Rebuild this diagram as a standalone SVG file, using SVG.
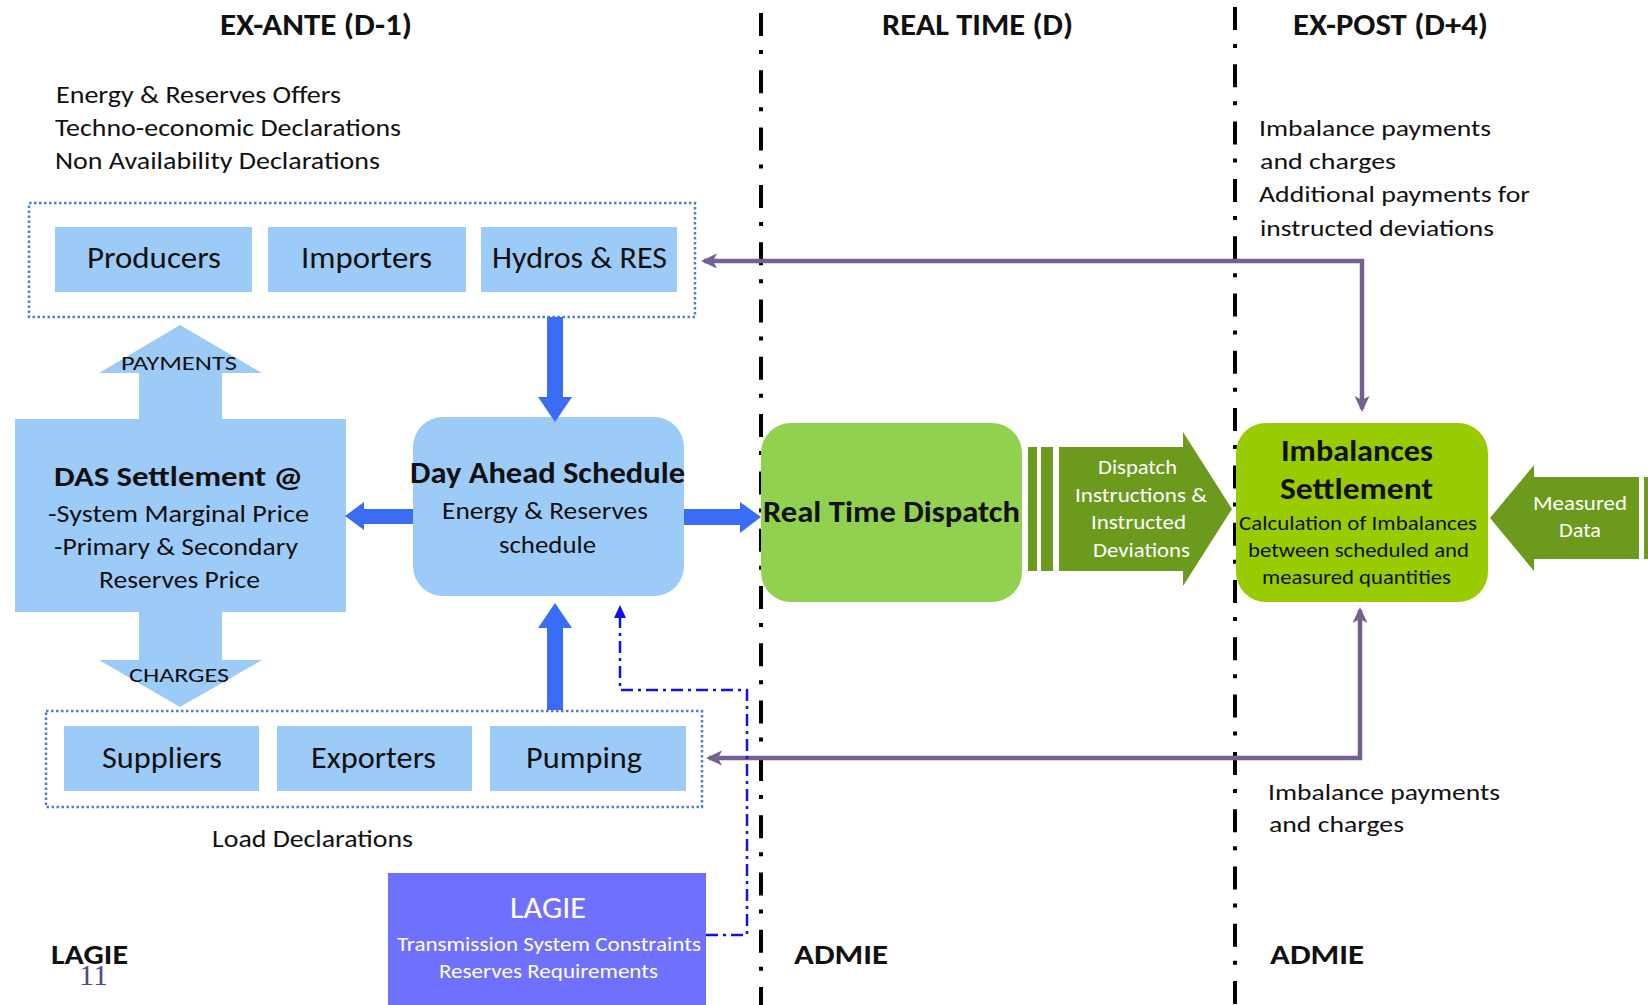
<svg xmlns="http://www.w3.org/2000/svg" width="1648" height="1005" viewBox="0 0 1648 1005">
<style>
text{font-family:Carlito,Lato,"Open Sans",sans-serif;fill:#111;}
.b{font-weight:bold;}
.c{text-anchor:middle;}
.lb{fill:#9dcbf8;}
.cont{fill:none;stroke:#4f7be0;stroke-width:2.5;stroke-dasharray:2.5 2.5;}
.phase{fill:none;stroke:#000;stroke-width:4;stroke-dasharray:23 14 4 16.3;}
.blue{fill:#3a6cf6;}
.purple{fill:none;stroke:#76608f;stroke-width:4.5;}
.dd{fill:none;stroke:#1010ee;stroke-width:2.5;stroke-dasharray:12 5 3 5;}
.dg{fill:#6b9a1d;}
.w{fill:#fff;}
</style>
<defs>
<marker id="pa" viewBox="0 0 16 16" refX="13" refY="8" markerWidth="16" markerHeight="16" markerUnits="userSpaceOnUse" orient="auto-start-reverse">
<path d="M0,0.5 L16,8 L0,15.5 L4,8 z" fill="#76608f"/>
</marker>
<marker id="ba" viewBox="0 0 13 12" refX="1" refY="6" markerWidth="13" markerHeight="12" markerUnits="userSpaceOnUse" orient="auto">
<path d="M0,0 L13,6 L0,12 z" fill="#1010ee"/>
</marker>
</defs>
<rect width="1648" height="1005" fill="#fff"/>

<g id="phase-lines">
<line class="phase" x1="761" y1="13" x2="761" y2="1005"/>
<line class="phase" x1="1235" y1="7" x2="1235" y2="1005"/>
</g>

<g id="titles">
<text class="b" x="220" y="35" font-size="30" textLength="192" lengthAdjust="spacingAndGlyphs">EX-ANTE (D-1)</text>
<text class="b" x="882" y="35" font-size="30" textLength="191" lengthAdjust="spacingAndGlyphs">REAL TIME (D)</text>
<text class="b" x="1293" y="35" font-size="30" textLength="195" lengthAdjust="spacingAndGlyphs">EX-POST (D+4)</text>
</g>

<g id="labels">
<text x="56" y="103" font-size="24" textLength="285" lengthAdjust="spacingAndGlyphs">Energy &amp; Reserves Offers</text>
<text x="55" y="136" font-size="24" textLength="346" lengthAdjust="spacingAndGlyphs">Techno-economic Declarations</text>
<text x="55" y="169" font-size="24" textLength="325" lengthAdjust="spacingAndGlyphs">Non Availability Declarations</text>
<text x="212" y="847" font-size="24" textLength="201" lengthAdjust="spacingAndGlyphs">Load Declarations</text>
<text x="1259" y="136" font-size="23" textLength="232" lengthAdjust="spacingAndGlyphs">Imbalance payments</text>
<text x="1260" y="169" font-size="23" textLength="136" lengthAdjust="spacingAndGlyphs">and charges</text>
<text x="1259" y="202" font-size="23" textLength="271" lengthAdjust="spacingAndGlyphs">Additional payments for</text>
<text x="1260" y="236" font-size="23" textLength="234" lengthAdjust="spacingAndGlyphs">instructed deviations</text>
<text x="1268" y="800" font-size="23" textLength="232" lengthAdjust="spacingAndGlyphs">Imbalance payments</text>
<text x="1269" y="832" font-size="23" textLength="135" lengthAdjust="spacingAndGlyphs">and charges</text>
<text class="b" x="51" y="964" font-size="28" textLength="77" lengthAdjust="spacingAndGlyphs">LAGIE</text>
<text x="79" y="985" font-size="30" style="font-family:'Liberation Serif',serif;fill:#4a4a8c">11</text>
<text class="b" x="794" y="964" font-size="28" textLength="94" lengthAdjust="spacingAndGlyphs">ADMIE</text>
<text class="b" x="1270" y="964" font-size="28" textLength="94" lengthAdjust="spacingAndGlyphs">ADMIE</text>
</g>

<g id="generators">
<rect class="cont" x="29" y="203" width="666" height="114"/>
<g id="producers"><rect class="lb" x="55" y="227" width="197" height="65"/><text x="87" y="268" font-size="30" textLength="134" lengthAdjust="spacingAndGlyphs">Producers</text></g>
<g id="importers"><rect class="lb" x="268" y="227" width="198" height="65"/><text x="301" y="268" font-size="30" textLength="131" lengthAdjust="spacingAndGlyphs">Importers</text></g>
<g id="hydros-res"><rect class="lb" x="481" y="227" width="196" height="65"/><text x="492" y="268" font-size="30" textLength="175" lengthAdjust="spacingAndGlyphs">Hydros &amp; RES</text></g>
</g>

<g id="loads">
<rect class="cont" x="46" y="711" width="656" height="96"/>
<g id="suppliers"><rect class="lb" x="64" y="726" width="195" height="65"/><text x="102" y="768" font-size="30" textLength="120" lengthAdjust="spacingAndGlyphs">Suppliers</text></g>
<g id="exporters"><rect class="lb" x="277" y="726" width="195" height="65"/><text x="311" y="768" font-size="30" textLength="125" lengthAdjust="spacingAndGlyphs">Exporters</text></g>
<g id="pumping"><rect class="lb" x="490" y="726" width="196" height="65"/><text x="526" y="768" font-size="30" textLength="116" lengthAdjust="spacingAndGlyphs">Pumping</text></g>
</g>

<g id="das-settlement">
<path class="lb" d="M180,325 L262,373 L222,373 L222,419 L346,419 L346,612 L222,612 L222,660 L262,660 L180,707 L99,660 L139,660 L139,612 L15,612 L15,419 L139,419 L139,373 L99,373 z"/>
<text x="121" y="370" font-size="21" textLength="116" lengthAdjust="spacingAndGlyphs">PAYMENTS</text>
<text x="129" y="682" font-size="21" textLength="100" lengthAdjust="spacingAndGlyphs">CHARGES</text>
<text class="b" x="54" y="486" font-size="29" textLength="249" lengthAdjust="spacingAndGlyphs">DAS Settlement @</text>
<text x="48" y="522" font-size="25" textLength="261" lengthAdjust="spacingAndGlyphs">-System Marginal Price</text>
<text x="54" y="555" font-size="25" textLength="244" lengthAdjust="spacingAndGlyphs">-Primary &amp; Secondary</text>
<text x="99" y="588" font-size="25" textLength="161" lengthAdjust="spacingAndGlyphs">Reserves Price</text>
</g>

<g id="day-ahead-schedule">
<rect class="lb" x="413" y="417" width="271" height="179" rx="30"/>
<text class="b" x="410" y="483" font-size="30" textLength="275" lengthAdjust="spacingAndGlyphs">Day Ahead Schedule</text>
<text x="442" y="519" font-size="25" textLength="206" lengthAdjust="spacingAndGlyphs">Energy &amp; Reserves</text>
<text x="499" y="553" font-size="25" textLength="97" lengthAdjust="spacingAndGlyphs">schedule</text>
</g>

<g id="lagie-box">
<rect x="388" y="873" width="318" height="132" fill="#7070fe"/>
<text class="w" x="510" y="918" font-size="30" textLength="76" lengthAdjust="spacingAndGlyphs">LAGIE</text>
<text class="w" x="397" y="951" font-size="20" textLength="304" lengthAdjust="spacingAndGlyphs">Transmission  System Constraints</text>
<text class="w" x="439" y="978" font-size="20" textLength="219" lengthAdjust="spacingAndGlyphs">Reserves Requirements</text>
</g>

<g id="real-time-dispatch">
<rect x="761" y="423" width="261" height="179" rx="30" fill="#92d050"/>
<text class="b" x="763" y="522" font-size="30" textLength="257" lengthAdjust="spacingAndGlyphs">Real Time Dispatch</text>
</g>

<g id="dispatch-instructions">
<rect class="dg" x="1028" y="447" width="9" height="124"/>
<rect class="dg" x="1041" y="447" width="12" height="124"/>
<path class="dg" d="M1059,447 L1183,447 L1183,432 L1232,509 L1183,586 L1183,571 L1059,571 z"/>
<text class="w" x="1098" y="474" font-size="20" textLength="79" lengthAdjust="spacingAndGlyphs">Dispatch</text>
<text class="w" x="1075" y="502" font-size="20" textLength="132" lengthAdjust="spacingAndGlyphs">Instructions &amp;</text>
<text class="w" x="1091" y="529" font-size="20" textLength="95" lengthAdjust="spacingAndGlyphs">Instructed</text>
<text class="w" x="1093" y="557" font-size="20" textLength="97" lengthAdjust="spacingAndGlyphs">Deviations</text>
</g>

<g id="imbalances-settlement">
<rect x="1236" y="423" width="252" height="179" rx="30" fill="#99cc00"/>
<text class="b" x="1281" y="461" font-size="30" textLength="152" lengthAdjust="spacingAndGlyphs">Imbalances</text>
<text class="b" x="1280" y="499" font-size="30" textLength="153" lengthAdjust="spacingAndGlyphs">Settlement</text>
<text x="1239" y="530" font-size="20" textLength="238" lengthAdjust="spacingAndGlyphs">Calculation  of Imbalances</text>
<text x="1248" y="557" font-size="20" textLength="221" lengthAdjust="spacingAndGlyphs">between scheduled and</text>
<text x="1262" y="584" font-size="20" textLength="189" lengthAdjust="spacingAndGlyphs">measured quantities</text>
</g>

<g id="measured-data">
<path class="dg" d="M1490,518 L1534,465 L1534,477 L1639,477 L1639,559 L1534,559 L1534,571 z"/>
<rect class="dg" x="1644" y="477" width="4" height="82"/>
<text class="w" x="1533" y="510" font-size="20" textLength="94" lengthAdjust="spacingAndGlyphs">Measured</text>
<text class="w" x="1559" y="537" font-size="20" textLength="42" lengthAdjust="spacingAndGlyphs">Data</text>
</g>

<g id="connectors">
<path class="blue" d="M547,317 L563,317 L563,397 L572,397 L555,422 L538,397 L547,397 z"/>
<path class="blue" d="M547,710 L563,710 L563,628 L572,628 L555,603 L538,628 L547,628 z"/>
<path class="blue" d="M413,509 L413,524 L364,524 L364,530 L345,516 L364,502 L364,509 z"/>
<path class="blue" d="M684,509 L740,509 L740,502 L761,517 L740,533 L740,525 L684,525 z"/>
<path class="purple" d="M704,261 H1362 V409" marker-start="url(#pa)" marker-end="url(#pa)"/>
<path class="purple" d="M709,758 H1360 V610" marker-start="url(#pa)" marker-end="url(#pa)"/>
<path class="dd" d="M706,935 H747 V690 H620 V617" marker-end="url(#ba)"/>
</g>
</svg>
